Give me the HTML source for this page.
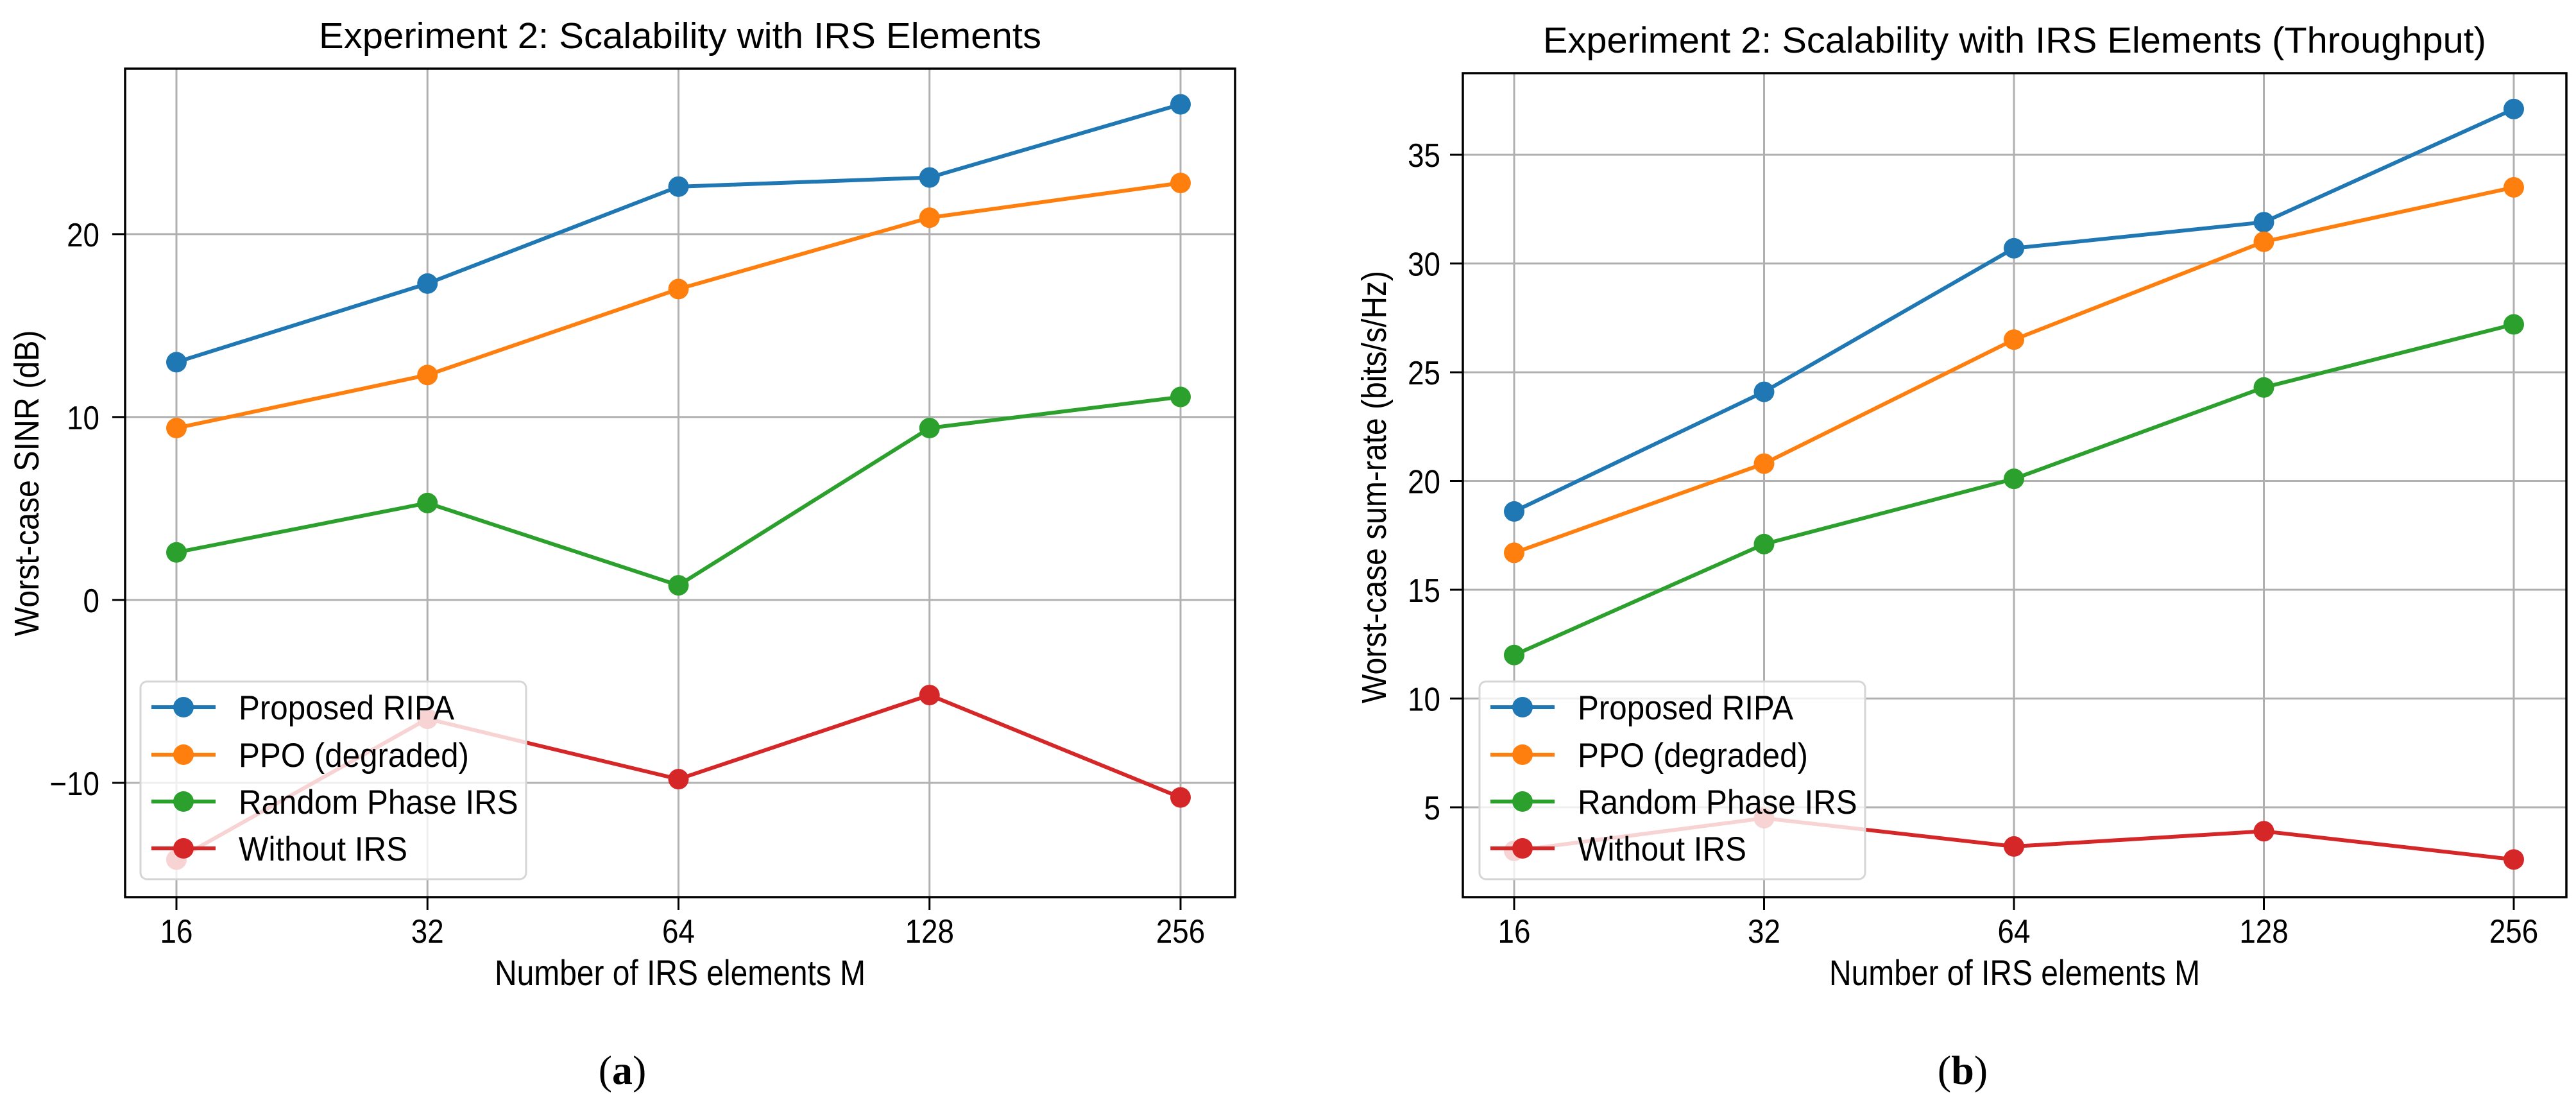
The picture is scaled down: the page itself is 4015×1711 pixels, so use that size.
<!DOCTYPE html>
<html><head><meta charset="utf-8"><style>
html,body{margin:0;padding:0;background:#fff;}
svg{display:block;font-family:"Liberation Sans",Arial,sans-serif;}
</style></head><body>
<svg id="fig" width="4015" height="1711" viewBox="0 0 4015 1711" xmlns="http://www.w3.org/2000/svg"></svg>
<script>
const categories = [16, 32, 64, 128, 256];
const seriesNames = ["Proposed RIPA", "PPO (degraded)", "Random Phase IRS", "Without IRS"];
const sinrRipa = [13.0, 17.3, 22.6, 23.1, 27.1];
const sinrPpo = [9.4, 12.3, 17.0, 20.9, 22.8];
const sinrRandom = [2.6, 5.3, 0.8, 9.4, 11.1];
const sinrNoIrs = [-14.2, -6.5, -9.8, -5.2, -10.8];
const rateRipa = [18.6, 24.1, 30.7, 31.9, 37.1];
const ratePpo = [16.7, 20.8, 26.5, 31.0, 33.5];
const rateRandom = [12.0, 17.1, 20.1, 24.3, 27.2];
const rateNoIrs = [3.0, 4.5, 3.2, 3.9, 2.6];
const sinrTicks = [-10, 0, 10, 20];
const sinrTickLabels = ["\u221210", "0", "10", "20"];
const rateTicks = [5, 10, 15, 20, 25, 30, 35];
const rateTickLabels = ["5", "10", "15", "20", "25", "30", "35"];

const colors = ["#1f77b4", "#ff7f0e", "#2ca02c", "#d62728"];
const NS = "http://www.w3.org/2000/svg";
const svg = document.getElementById("fig");

function mk(tag, attrs, parent) {
  const e = document.createElementNS(NS, tag);
  for (const k in attrs) e.setAttribute(k, attrs[k]);
  (parent || svg).appendChild(e);
  return e;
}
function txt(str, attrs, parent, targetW, factor) {
  const e = mk("text", attrs, parent);
  e.textContent = str;
  const w = e.getComputedTextLength();
  const t = targetW || w * (factor || 0.84);
  e.setAttribute("textLength", t);
  e.setAttribute("lengthAdjust", "spacingAndGlyphs");
  return e;
}

function drawPanel(p) {
  const g = mk("g", {});
  
  
  const L = p.L, R = p.R, T = p.T, B = p.B;
  const xs = v => p.x16 + (Math.log2(v) - 4) * (p.x256 - p.x16) / 4;
  const ys = v => B - (v - p.ymin) * (B - T) / (p.ymax - p.ymin);

  const grid = mk("g", {stroke: "#b0b0b0", "stroke-width": 3}, g);
  
  
  categories.forEach(c => mk("line", {x1: xs(c), x2: xs(c), y1: T, y2: B}, grid));
  p.ticks.forEach(t => mk("line", {x1: L, x2: R, y1: ys(t), y2: ys(t)}, grid));

  p.series.forEach((vals, si) => {
    const sg = mk("g", {}, g);
    
    
    const pts = vals.map((v, i) => xs(categories[i]) + "," + ys(v)).join(" ");
    const pl = mk("polyline", {points: pts, fill: "none", stroke: colors[si], "stroke-width": 6, "stroke-linejoin": "round"}, sg);
    
    
    vals.forEach((v, i) => {
      const c = mk("circle", {cx: xs(categories[i]), cy: ys(v), r: 16, fill: colors[si]}, sg);
      
      
    });
  });

  const fr = mk("rect", {x: L, y: T, width: R - L, height: B - T, fill: "none", stroke: "#000", "stroke-width": 3.5}, g);
  
  

  categories.forEach(c => {
    mk("line", {x1: xs(c), x2: xs(c), y1: B, y2: B + 20, stroke: "#000", "stroke-width": 3}, g);
    const t = txt(String(c), {x: xs(c), y: p.tickBase, "font-size": 52, "text-anchor": "middle", fill: "#000"}, g, null, 0.88);
    
    
  });
  p.ticks.forEach((tv, i) => {
    mk("line", {x1: L - 20, x2: L, y1: ys(tv), y2: ys(tv), stroke: "#000", "stroke-width": 3}, g);
    const t = txt(p.tickLabels[i], {x: p.ytickRight, y: ys(tv) + 19, "font-size": 52, "text-anchor": "end", fill: "#000"}, g, null, 0.88);
    
    
  });

  const ti = txt(p.title, {x: (L + R) / 2, y: p.titleBase, "font-size": 57, "text-anchor": "middle", fill: "#000"}, g, p.titleW);
  
  
  const xl = txt("Number of IRS elements M", {x: (L + R) / 2, y: 1535, "font-size": 56, "text-anchor": "middle", fill: "#000"}, g, 578);
  
  
  const yl = txt(p.ylabel, {x: 0, y: 0, "font-size": 54, "text-anchor": "middle", fill: "#000", transform: "translate(" + p.ylabelX + "," + p.ylabelY + ") rotate(-90)"}, g, p.ylabelW);
  
  

  const lg = mk("g", {}, g);
  
  
  const lx = p.legendX, ly = 1062;
  mk("rect", {x: lx, y: ly, width: 601, height: 308, rx: 10, fill: "#fff", "fill-opacity": 0.8, stroke: "#d6d6d6", "stroke-width": 3}, lg);
  const rowY = [1102, 1176, 1249, 1322];
  seriesNames.forEach((n, i) => {
    const eg = mk("g", {}, lg);
    
    
    mk("line", {x1: lx + 17, x2: lx + 117, y1: rowY[i], y2: rowY[i], stroke: colors[i], "stroke-width": 6}, eg);
    mk("circle", {cx: lx + 67, cy: rowY[i], r: 16, fill: colors[i]}, eg);
    txt(n, {x: lx + 153, y: rowY[i] + 19, "font-size": 53, fill: "#000"}, eg, null, 0.93);
  });

  const cap = mk("text", {x: p.capX, y: 1689, "font-size": 64, "text-anchor": "middle", fill: "#000", "font-family": "Liberation Serif, serif"}, g);
  
  
  cap.innerHTML = '(<tspan font-weight="bold">' + p.capLetter + '</tspan>)';
}

drawPanel({
  name: "panel-a-sinr", L: 195, R: 1925, T: 107, B: 1398, x16: 275, x256: 1840,
  ymin: -16.25, ymax: 29.05, ticks: sinrTicks, tickLabels: sinrTickLabels,
  series: [sinrRipa, sinrPpo, sinrRandom, sinrNoIrs],
  title: "Experiment 2: Scalability with IRS Elements", titleBase: 75, titleW: 1126,
  ylabel: "Worst-case SINR (dB)", ylabelX: 60, ylabelY: 753, ylabelW: 477,
  ytickRight: 155, tickBase: 1469, legendX: 219, capX: 970, capLetter: "a"
});
drawPanel({
  name: "panel-b-throughput", L: 2280, R: 4000, T: 114, B: 1398, x16: 2360, x256: 3918,
  ymin: 0.87, ymax: 38.75, ticks: rateTicks, tickLabels: rateTickLabels,
  series: [rateRipa, ratePpo, rateRandom, rateNoIrs],
  title: "Experiment 2: Scalability with IRS Elements (Throughput)", titleBase: 82, titleW: 1470,
  ylabel: "Worst-case sum-rate (bits/s/Hz)", ylabelX: 2160, ylabelY: 759, ylabelW: 674,
  ytickRight: 2245, tickBase: 1469, legendX: 2306, capX: 3059, capLetter: "b"
});
</script>
</body></html>
